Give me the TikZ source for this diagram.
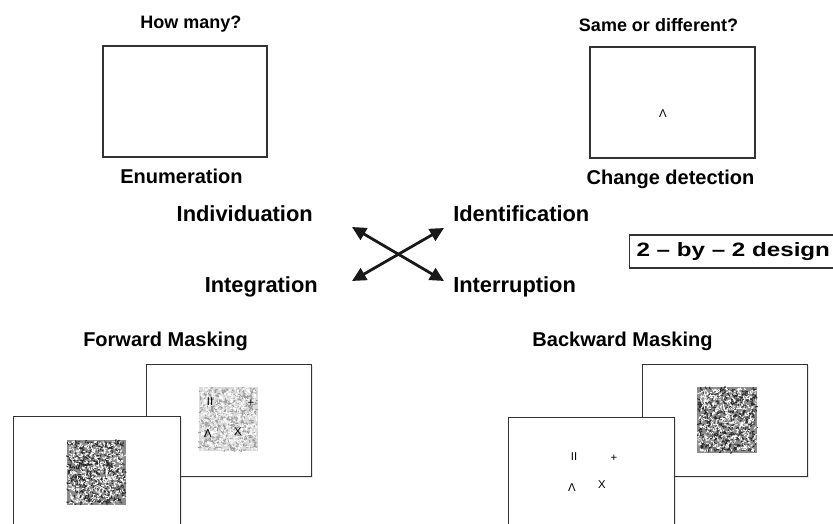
\documentclass[tikz,border=0pt]{standalone}
\usepackage{fontspec}
\setmainfont{Liberation Sans}
\usetikzlibrary{arrows.meta,shadows}
\def\px{0.75pt}
\tikzset{
  box/.style={draw=black!80, line width=0.9pt, fill=white, rectangle, inner sep=0pt,
    drop shadow={shadow xshift=0.9pt, shadow yshift=-0.9pt, opacity=0.18}},
  titletext/.style={font=\bfseries\fontsize{13.5}{15}\selectfont, anchor=base, inner sep=0pt},
  tasktext/.style={font=\bfseries\fontsize{15}{17}\selectfont, anchor=base, inner sep=0pt},
  bigtext/.style={font=\bfseries\fontsize{16.4}{19}\selectfont, inner sep=0pt},
  symtext/.style={font=\fontsize{8.5}{10}\selectfont, inner sep=0pt},
  dblarrow/.style={{Triangle[length=10.5pt,width=10pt]}-{Triangle[length=10.5pt,width=10pt]}, line width=2.1pt, black!90},
  designbox/.style={draw=black!80, line width=0.9pt, anchor=west, inner xsep=7*\px,
    minimum height=33*\px, font=\bfseries\fontsize{14.5}{16}\selectfont}
}
\newcommand{\noisepatch}[7]{%
  \fill[#5] (#1,#2) rectangle ++(#3,#4);
  \foreach \k in {1,...,520}{%
    \pgfmathsetmacro{\xa}{#1+1.5+rnd*(#3-3)}%
    \pgfmathsetmacro{\ya}{#2+1.5+rnd*(#4-3)}%
    \pgfmathsetmacro{\an}{rnd*360}%
    \draw[#6, line width=0.6pt, line cap=round] (\xa,\ya) arc[start angle=\an, delta angle=130, radius=1.4];
  }
  \foreach \k in {1,...,420}{%
    \pgfmathsetmacro{\xa}{#1+1.5+rnd*(#3-3)}%
    \pgfmathsetmacro{\ya}{#2+1.5+rnd*(#4-3)}%
    \pgfmathsetmacro{\an}{rnd*360}%
    \draw[#7, line width=0.6pt, line cap=round] (\xa,\ya) arc[start angle=\an, delta angle=130, radius=1.3];
  }
}
\begin{document}
\begin{tikzpicture}[x=\px, y=-\px]
\useasboundingbox (0,0) rectangle (833,524);
\clip (0,0) rectangle (833,524);
\pgfmathsetseed{7}

% top left: enumeration
\node[titletext] (howmany) at (191,28.5) {How many?};
\node[box, minimum width=164*\px, minimum height=111*\px] (enumbox) at (185,101.5) {};
\node[tasktext] (enum) at (181.5,184) {Enumeration};

% top right: change detection
\node[titletext] (same) at (658.5,32) {Same or different?};
\node[box, minimum width=165*\px, minimum height=111*\px] (cdbox) at (672.5,102.5) {};
\node[symtext] (cdsym) at (663,114) {Λ};
\node[tasktext] (cd) at (670.5,185) {Change detection};

% middle
\node[bigtext, anchor=base east] (indiv) at (313,222) {Individuation};
\node[bigtext, anchor=base west] (ident) at (453,222) {Identification};
\node[bigtext, anchor=base east] (integ) at (318,293) {Integration};
\node[bigtext, anchor=base west] (inter) at (453,293) {Interruption};
\coordinate (ul) at (352,227);
\coordinate (ur) at (444,228);
\coordinate (ll) at (352,281);
\coordinate (lr) at (444,281);
\draw[dblarrow] (ul) -- (lr);
\draw[dblarrow] (ur) -- (ll);

\node[designbox] (design) at (629,251.5) {\scalebox{1.25}[1]{2 -- by -- 2 design}};

% forward masking
\node[tasktext] (fwd) at (165.5,347) {Forward Masking};
\node[box, anchor=north west, minimum width=165*\px, minimum height=112*\px] (fback) at (146,364) {};
\noisepatch{199}{387}{59}{64}{black!14}{black!40}{white}
\node[symtext] (f1) at (210,402) {II};
\node[symtext] (f2) at (251,403) {+};
\node[symtext] (f3) at (208,434) {Λ};
\node[symtext] (f4) at (238,432) {X};
\node[box, anchor=north west, minimum width=167*\px, minimum height=130*\px] (ffront) at (13,416) {};
\noisepatch{67}{440}{59}{65}{black!45}{black!85}{white}

% backward masking
\node[tasktext] (bwd) at (622.5,347) {Backward Masking};
\node[box, anchor=north west, minimum width=165*\px, minimum height=112*\px] (bback) at (642,364) {};
\noisepatch{697}{387}{60}{66}{black!45}{black!85}{white}
\node[box, anchor=north west, minimum width=166*\px, minimum height=130*\px] (bfront) at (508,417) {};
\node[symtext] (b1) at (574,457) {II};
\node[symtext] (b2) at (614,458) {+};
\node[symtext] (b3) at (572,488) {Λ};
\node[symtext] (b4) at (602,485) {X};
\end{tikzpicture}
\end{document}
